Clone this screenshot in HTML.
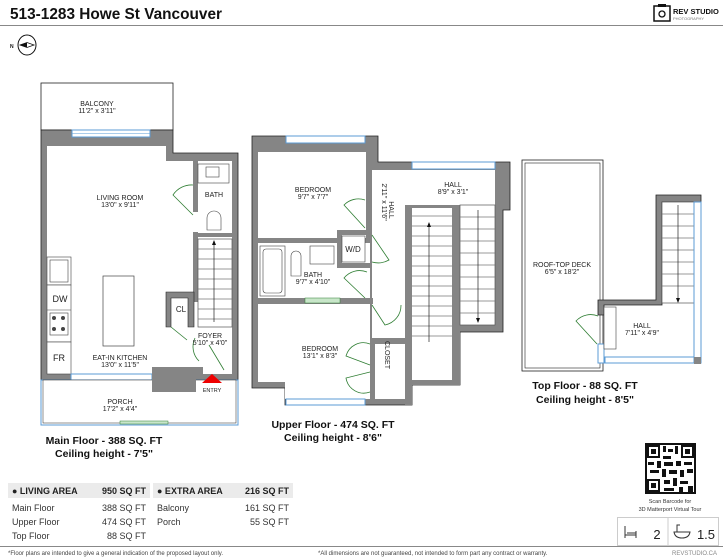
<!DOCTYPE html>
<html><head><meta charset="utf-8"><style>
html,body{margin:0;padding:0;background:#fff;}
svg{display:block;font-family:"Liberation Sans",sans-serif;}
.b{font-weight:bold;}
.lbl{font-size:7px;fill:#222;text-anchor:middle;}
.w{fill:#858585;stroke:#222;stroke-width:0.8;}
.rm{fill:#fff;stroke:#222;stroke-width:0.8;}
.win{fill:#fff;stroke:#5b9bd5;stroke-width:1;}
.st{stroke:#777;stroke-width:0.7;}
.door{fill:none;stroke:#2e7d32;stroke-width:0.8;}
.tb{font-size:9px;fill:#333;}
</style></head><body>
<svg width="723" height="560" viewBox="0 0 723 560" xmlns="http://www.w3.org/2000/svg">
<rect width="723" height="560" fill="#fff"/>
<text x="10" y="19" font-size="16" class="b" fill="#111" textLength="212" lengthAdjust="spacingAndGlyphs">513-1283 Howe St Vancouver</text>
<line x1="0" y1="25.5" x2="723" y2="25.5" stroke="#888" stroke-width="1"/>
<rect x="654" y="6" width="16" height="15" fill="none" stroke="#111" stroke-width="1.5"/>
<rect x="658" y="4" width="8" height="3" fill="#111"/>
<circle cx="662" cy="14" r="3" fill="none" stroke="#111" stroke-width="1.3"/>
<text x="673" y="14" font-size="7.5" class="b" fill="#111">REV STUDIO</text>
<text x="673" y="20" font-size="4" fill="#777">PHOTOGRAPHY</text>
<text x="10" y="48" font-size="5" fill="#111" class="b">N</text>
<ellipse cx="27" cy="45" rx="9" ry="10" fill="none" stroke="#111" stroke-width="1"/>
<polygon points="20,45 27,42.5 34,45 27,47.5" fill="#fff" stroke="#111" stroke-width="0.8"/>
<polygon points="20,45 27,42.5 27,47.5" fill="#111"/>

<!-- MAIN FLOOR -->
<rect x="41" y="83" width="132" height="47" class="rm"/>
<text x="97" y="106" class="lbl">BALCONY</text><text x="97" y="113" class="lbl">11'2" x 3'11"</text>
<path d="M41,130 H173 V153 H238 V380 H41 Z" class="w"/>
<path d="M47,146 H166 V161 H232 V374 H203 V367 H152 V374 H47 Z" fill="#fff"/>
<rect x="72" y="130" width="78" height="7" class="win"/>
<line x1="72" y1="133.5" x2="150" y2="133.5" stroke="#5b9bd5" stroke-width="0.6"/>
<rect x="193" y="160" width="5" height="52" fill="#858585"/>
<rect x="193" y="232" width="5" height="70" fill="#858585"/>
<rect x="193" y="233" width="39" height="4" fill="#858585"/>
<rect x="198" y="164" width="31" height="19" fill="none" stroke="#444" stroke-width="0.6"/>
<rect x="206" y="167" width="13" height="10" fill="none" stroke="#444" stroke-width="0.6"/>
<path d="M207,230 V218 A7,7 0 0 1 221,218 V230 Z" fill="#fff" stroke="#444" stroke-width="0.6"/>
<text x="214" y="197" class="lbl">BATH</text>
<path class="door" d="M193,185 A22,22 0 0 0 173,195 L193,215"/>
<g class="st">
<rect x="198" y="239" width="34" height="88" fill="#fff" stroke="#555"/>
<line x1="198" y1="249" x2="232" y2="249"/><line x1="198" y1="259" x2="232" y2="259"/><line x1="198" y1="269" x2="232" y2="269"/><line x1="198" y1="279" x2="232" y2="279"/><line x1="198" y1="289" x2="232" y2="289"/><line x1="198" y1="299" x2="232" y2="299"/><line x1="198" y1="309" x2="232" y2="309"/><line x1="198" y1="319" x2="232" y2="319"/>
<line x1="214" y1="322" x2="214" y2="243" stroke="#222"/>
</g>
<polygon points="214,240 212,245 216,245" fill="#111"/>
<path d="M166,292 H194 V327 H188 V298 H171 V327 H166 Z" fill="#858585" stroke="#222" stroke-width="0.6"/>
<text x="181" y="312" font-size="8" text-anchor="middle" fill="#222">CL</text>
<path class="door" d="M171,327 L187,340 M195,338 A20,20 0 0 0 199,361"/>
<path class="door" d="M224,370 L209,345"/>
<text x="210" y="338" class="lbl">FOYER</text><text x="210" y="345" class="lbl">5'10" x 4'0"</text>
<rect x="47" y="257" width="24" height="28" fill="#fff" stroke="#444" stroke-width="0.6"/>
<rect x="50" y="260" width="18" height="22" fill="none" stroke="#444" stroke-width="0.6"/>
<rect x="47" y="285" width="24" height="57" fill="#fff" stroke="#444" stroke-width="0.6"/>
<line x1="47" y1="310" x2="71" y2="310" stroke="#444" stroke-width="0.6"/>
<text x="60" y="302" font-size="9" text-anchor="middle" fill="#222">DW</text>
<rect x="50" y="313" width="18" height="22" fill="none" stroke="#444" stroke-width="0.6"/>
<circle cx="54" cy="318" r="2" fill="#444"/><circle cx="63" cy="318" r="2" fill="#444"/><circle cx="54" cy="329" r="2" fill="#444"/><circle cx="63" cy="329" r="2" fill="#444"/>
<rect x="47" y="342" width="24" height="32" fill="#fff" stroke="#444" stroke-width="0.6"/>
<text x="59" y="361" font-size="9" text-anchor="middle" fill="#222">FR</text>
<rect x="103" y="276" width="31" height="70" fill="#fff" stroke="#444" stroke-width="0.7"/>
<text x="120" y="200" class="lbl">LIVING ROOM</text><text x="120" y="207" class="lbl">13'0" x 9'11"</text>
<text x="120" y="360" class="lbl">EAT-IN KITCHEN</text><text x="120" y="367" class="lbl">13'0" x 11'5"</text>
<rect x="71" y="374" width="81" height="6" class="win"/>
<rect x="41" y="380" width="197" height="45" fill="#fff" stroke="#5b9bd5" stroke-width="1"/>
<rect x="43" y="380" width="193" height="43" fill="#fff" stroke="#222" stroke-width="0.5"/>
<rect x="152" y="367" width="44" height="25" fill="#858585"/>
<rect x="120" y="421" width="48" height="3" fill="#c8e6c9" stroke="#2e7d32" stroke-width="0.5"/>
<polygon points="202,383 212,374 222,383" fill="#e00"/>
<text x="212" y="392" font-size="5.5" text-anchor="middle" fill="#222">ENTRY</text>
<text x="120" y="404" class="lbl">PORCH</text><text x="120" y="411" class="lbl">17'2" x 4'4"</text>
<text x="104" y="444" font-size="10.5" class="b" text-anchor="middle" fill="#111">Main Floor - 388 SQ. FT</text>
<text x="104" y="457" font-size="10.5" class="b" text-anchor="middle" fill="#111">Ceiling height - 7'5"</text>

<!-- UPPER FLOOR -->
<path d="M252,136 H378 V162 H510 V210 H503 V332 H460 V385 H412 V405 H285 V388 H252 Z" class="w"/>
<rect x="258" y="152" width="108" height="86" fill="#fff"/>
<rect x="258" y="243" width="112" height="55" fill="#fff"/>
<rect x="258" y="304" width="112" height="78" fill="#fff"/>
<rect x="285" y="304" width="85" height="95" fill="#fff"/>
<rect x="372" y="170" width="33" height="170" fill="#fff"/>
<rect x="372" y="170" width="123" height="35" fill="#fff"/>
<rect x="375" y="344" width="30" height="55" fill="#fff"/>
<rect x="412" y="208" width="40" height="172" fill="#fff"/>
<rect x="366" y="152" width="6" height="86" fill="#858585"/>
<rect x="286" y="136" width="79" height="7" class="win"/>
<rect x="412" y="162" width="83" height="7" class="win"/>
<rect x="286" y="399" width="79" height="6" class="win"/>
<rect x="258" y="238" width="72" height="5" fill="#858585"/>
<rect x="337" y="230" width="33" height="5" fill="#858585"/>
<rect x="337" y="230" width="5" height="38" fill="#858585"/>
<rect x="337" y="263" width="33" height="5" fill="#858585"/>
<rect x="342" y="236" width="23" height="26" fill="#fff" stroke="#444" stroke-width="0.6"/>
<text x="353" y="252" font-size="8" text-anchor="middle" fill="#222">W/D</text>
<rect x="258" y="298" width="115" height="6" fill="#858585"/>
<rect x="305" y="298" width="35" height="5" fill="#c8e6c9" stroke="#2e7d32" stroke-width="0.5"/>
<rect x="260" y="246" width="25" height="50" fill="#fff" stroke="#444" stroke-width="0.6"/>
<rect x="263" y="249" width="19" height="44" rx="3" fill="none" stroke="#444" stroke-width="0.6"/>
<path d="M291,276 V256 A5,5 0 0 1 301,256 V276 Z" fill="#fff" stroke="#444" stroke-width="0.6"/>
<rect x="310" y="246" width="24" height="18" fill="#fff" stroke="#444" stroke-width="0.6"/>
<rect x="405" y="208" width="7" height="197" fill="#858585"/>
<rect x="452" y="205" width="8" height="180" fill="#858585"/>
<rect x="412" y="380" width="48" height="5" fill="#858585"/>
<rect x="370" y="338" width="35" height="6" fill="#858585"/>
<rect x="370" y="338" width="5" height="25" fill="#858585"/>
<g class="st">
<line x1="412" y1="216" x2="452" y2="216"/><line x1="412" y1="226" x2="452" y2="226"/><line x1="412" y1="236" x2="452" y2="236"/><line x1="412" y1="246" x2="452" y2="246"/><line x1="412" y1="256" x2="452" y2="256"/><line x1="412" y1="266" x2="452" y2="266"/><line x1="412" y1="276" x2="452" y2="276"/><line x1="412" y1="286" x2="452" y2="286"/><line x1="412" y1="296" x2="452" y2="296"/><line x1="412" y1="306" x2="452" y2="306"/><line x1="412" y1="316" x2="452" y2="316"/><line x1="412" y1="326" x2="452" y2="326"/><line x1="412" y1="336" x2="452" y2="336"/>
<line x1="429" y1="342" x2="429" y2="225" stroke="#222"/>
<rect x="460" y="205" width="35" height="120" fill="#fff" stroke="#555"/>
<line x1="460" y1="217" x2="495" y2="217"/><line x1="460" y1="229" x2="495" y2="229"/><line x1="460" y1="241" x2="495" y2="241"/><line x1="460" y1="253" x2="495" y2="253"/><line x1="460" y1="265" x2="495" y2="265"/><line x1="460" y1="277" x2="495" y2="277"/><line x1="460" y1="289" x2="495" y2="289"/><line x1="460" y1="301" x2="495" y2="301"/><line x1="460" y1="313" x2="495" y2="313"/>
<line x1="478" y1="210" x2="478" y2="320" stroke="#222"/>
</g>
<polygon points="429,222 427,227 431,227" fill="#111"/>
<polygon points="478,323 476,318 480,318" fill="#111"/>
<path class="door" d="M365,200 A20,20 0 0 0 344,205 L365,228 M372,235 L389,260 A22,22 0 0 1 372,262"/>
<path class="door" d="M367,272 A20,20 0 0 0 344,278 L365,298 M372,305 L385,325 A20,20 0 0 0 401,305"/>
<path class="door" d="M370,344 A18,18 0 0 0 346,356 L370,365 M370,372 L346,378 A18,18 0 0 0 370,392"/>
<text x="313" y="192" class="lbl">BEDROOM</text><text x="313" y="199" class="lbl">9'7" x 7'7"</text>
<text x="313" y="277" class="lbl">BATH</text><text x="313" y="284" class="lbl">9'7" x 4'10"</text>
<text x="320" y="351" class="lbl">BEDROOM</text><text x="320" y="358" class="lbl">13'1" x 8'3"</text>
<text x="453" y="187" class="lbl">HALL</text><text x="453" y="194" class="lbl">8'9" x 3'1"</text>
<text transform="translate(389,210) rotate(90)" class="lbl" text-anchor="start">HALL</text>
<text transform="translate(382,202) rotate(90)" class="lbl" text-anchor="start">2'11" x 11'6"</text>
<text transform="translate(385,355) rotate(90)" class="lbl" text-anchor="start">CLOSET</text>
<text x="333" y="428" font-size="10.5" class="b" text-anchor="middle" fill="#111">Upper Floor - 474 SQ. FT</text>
<text x="333" y="441" font-size="10.5" class="b" text-anchor="middle" fill="#111">Ceiling height - 8'6"</text>

<!-- TOP FLOOR -->
<rect x="522" y="160" width="81" height="211" class="rm"/>
<rect x="525" y="163" width="75" height="205" fill="none" stroke="#222" stroke-width="0.6"/>
<text x="562" y="267" class="lbl">ROOF-TOP DECK</text><text x="562" y="274" class="lbl">6'5" x 18'2"</text>
<path d="M656,195 H701 V202 H662 V305 H604 V315 H598 V300 H656 Z" class="w"/>
<g class="st">
<rect x="662" y="202" width="32" height="101" fill="#fff" stroke="#555"/>
<line x1="662" y1="214" x2="694" y2="214"/><line x1="662" y1="226" x2="694" y2="226"/><line x1="662" y1="238" x2="694" y2="238"/><line x1="662" y1="250" x2="694" y2="250"/><line x1="662" y1="262" x2="694" y2="262"/><line x1="662" y1="274" x2="694" y2="274"/><line x1="662" y1="286" x2="694" y2="286"/>
<line x1="678" y1="205" x2="678" y2="298" stroke="#222"/>
</g>
<polygon points="678,303 676,298 680,298" fill="#111"/>
<rect x="694" y="202" width="7" height="161" class="win"/>
<rect x="605" y="357" width="89" height="6" class="win"/>
<rect x="598" y="344" width="6" height="19" class="win"/>
<rect x="694" y="357" width="7" height="7" fill="#858585"/>
<rect x="604" y="307" width="12" height="42" fill="#fff" stroke="#444" stroke-width="0.6"/>
<path class="door" d="M598,316 A20,20 0 0 0 576,321 L597,344"/>
<text x="642" y="328" class="lbl">HALL</text><text x="642" y="335" class="lbl">7'11" x 4'9"</text>
<text x="585" y="389" font-size="10.5" class="b" text-anchor="middle" fill="#111">Top Floor - 88 SQ. FT</text>
<text x="585" y="403" font-size="10.5" class="b" text-anchor="middle" fill="#111">Ceiling height - 8'5"</text>

<!-- TABLE -->
<rect x="8" y="483" width="142" height="15" fill="#ebebeb"/>
<rect x="153" y="483" width="140" height="15" fill="#ebebeb"/>
<text x="12" y="494" font-size="9" class="b" fill="#222">● LIVING AREA</text>
<text x="146" y="494" font-size="9" class="b" fill="#222" text-anchor="end">950 SQ FT</text>
<text x="157" y="494" font-size="9" class="b" fill="#222">● EXTRA AREA</text>
<text x="289" y="494" font-size="9" class="b" fill="#222" text-anchor="end">216 SQ FT</text>
<text x="12" y="511" class="tb">Main Floor</text><text x="146" y="511" class="tb" text-anchor="end">388 SQ FT</text>
<text x="12" y="525" class="tb">Upper Floor</text><text x="146" y="525" class="tb" text-anchor="end">474 SQ FT</text>
<text x="12" y="539" class="tb">Top Floor</text><text x="146" y="539" class="tb" text-anchor="end">88 SQ FT</text>
<text x="157" y="511" class="tb">Balcony</text><text x="289" y="511" class="tb" text-anchor="end">161 SQ FT</text>
<text x="157" y="525" class="tb">Porch</text><text x="289" y="525" class="tb" text-anchor="end">55 SQ FT</text>

<!-- QR -->
<g fill="#111">
<rect x="645" y="443" width="51" height="51"/>
<rect x="647" y="445" width="47" height="47" fill="#fff"/>
<rect x="647" y="445" width="13" height="13"/><rect x="649" y="447" width="9" height="9" fill="#fff"/><rect x="651" y="449" width="5" height="5"/>
<rect x="681" y="445" width="13" height="13"/><rect x="683" y="447" width="9" height="9" fill="#fff"/><rect x="685" y="449" width="5" height="5"/>
<rect x="647" y="479" width="13" height="13"/><rect x="649" y="481" width="9" height="9" fill="#fff"/><rect x="651" y="483" width="5" height="5"/>
<rect x="663" y="446" width="3" height="6"/><rect x="668" y="449" width="5" height="3"/><rect x="675" y="446" width="3" height="8"/>
<rect x="663" y="456" width="8" height="3"/><rect x="648" y="462" width="6" height="3"/><rect x="657" y="461" width="4" height="7"/>
<rect x="664" y="462" width="9" height="4"/><rect x="676" y="461" width="5" height="5"/><rect x="684" y="462" width="8" height="3"/>
<rect x="650" y="470" width="9" height="3"/><rect x="662" y="469" width="4" height="8"/><rect x="669" y="470" width="8" height="4"/>
<rect x="680" y="470" width="4" height="7"/><rect x="687" y="469" width="6" height="4"/><rect x="664" y="480" width="6" height="4"/>
<rect x="673" y="478" width="4" height="8"/><rect x="680" y="481" width="8" height="3"/><rect x="664" y="488" width="10" height="3"/>
<rect x="679" y="487" width="4" height="5"/><rect x="688" y="486" width="5" height="6"/>
</g>
<text x="670" y="503" font-size="5.5" text-anchor="middle" fill="#333">Scan Barcode for</text>
<text x="670" y="511" font-size="5.5" text-anchor="middle" fill="#333">3D Matterport Virtual Tour</text>
<rect x="617.5" y="517.5" width="101" height="28" fill="#fff" stroke="#ccc" stroke-width="1"/>
<line x1="668" y1="518" x2="668" y2="545" stroke="#ccc" stroke-width="1"/>
<path d="M625,526 V538 M625,535 H636 M636,531 V538 M627,533 H636" fill="none" stroke="#333" stroke-width="1"/>
<text x="657" y="539" font-size="13" text-anchor="middle" fill="#222">2</text>
<path d="M674,532 H690 Q689,538 682,538 Q675,538 674,532 Z M677,532 V525 H680" fill="none" stroke="#333" stroke-width="1"/>
<text x="706" y="539" font-size="13" text-anchor="middle" fill="#222">1.5</text>

<line x1="0" y1="546.5" x2="723" y2="546.5" stroke="#888" stroke-width="1"/>
<text x="8" y="555" font-size="6" fill="#444">*Floor plans are intended to give a general indication of the proposed layout only.</text>
<text x="318" y="555" font-size="6" fill="#444">*All dimensions are not guaranteed, not intended to form part any contract or warranty.</text>
<text x="717" y="555" font-size="6" fill="#888" text-anchor="end">REVSTUDIO.CA</text>
</svg>
</body></html>
